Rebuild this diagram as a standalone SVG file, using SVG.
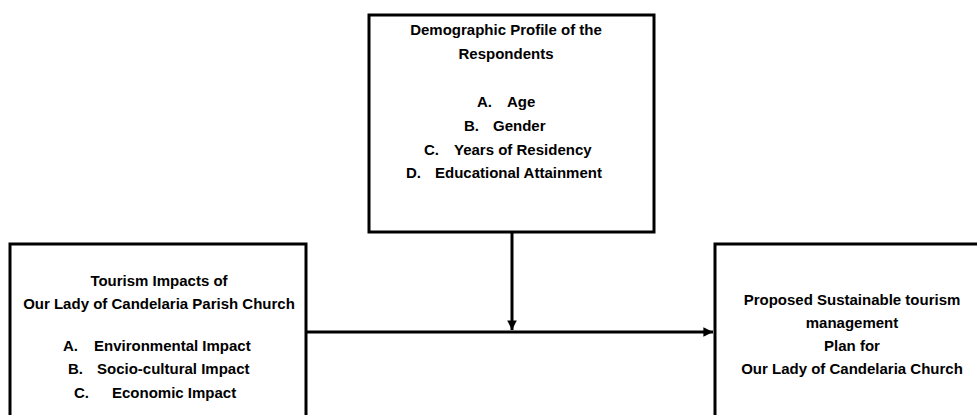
<svg xmlns="http://www.w3.org/2000/svg" width="977" height="415" viewBox="0 0 977 415">
<style>
.box{fill:#fff;stroke:#000;stroke-width:3}
.t{font-family:"Liberation Sans",Arial,sans-serif;font-weight:bold;font-size:15px;fill:#000}
.c{text-anchor:middle}
.con{stroke:#000;stroke-width:3;fill:none}
</style>
<defs>
<marker id="ah" viewBox="0 0 10 10" refX="10" refY="5" markerWidth="3.2" markerHeight="3.2" orient="auto" markerUnits="strokeWidth">
<path d="M0,0 L10,5 L0,10 z" fill="#000"/>
</marker>
</defs>
<rect width="977" height="415" fill="#fff"/>
<g id="demographic">
<rect class="box" x="369" y="15" width="285" height="217"/>
<text class="t c" x="506" y="35">Demographic Profile of the</text>
<text class="t c" x="506" y="59">Respondents</text>
<text class="t" x="477" y="107">A.</text><text class="t" x="507" y="107">Age</text>
<text class="t" x="464" y="131">B.</text><text class="t" x="493" y="131">Gender</text>
<text class="t" x="424" y="155">C.</text><text class="t" x="454" y="155">Years of Residency</text>
<text class="t" x="406" y="178">D.</text><text class="t" x="435" y="178">Educational Attainment</text>
</g>
<g id="impacts">
<rect class="box" x="10" y="244" width="296" height="200"/>
<text class="t c" x="159" y="286">Tourism Impacts of</text>
<text class="t c" x="159" y="309">Our Lady of Candelaria Parish Church</text>
<text class="t" x="63" y="351">A.</text><text class="t" x="94" y="351">Environmental Impact</text>
<text class="t" x="68" y="374">B.</text><text class="t" x="97" y="374">Socio-cultural Impact</text>
<text class="t" x="74" y="398">C.</text><text class="t" x="112" y="398">Economic Impact</text>
</g>
<g id="plan">
<rect class="box" x="715" y="244" width="300" height="200"/>
<text class="t c" x="852" y="305">Proposed Sustainable tourism</text>
<text class="t c" x="852" y="328">management</text>
<text class="t c" x="852" y="351">Plan for</text>
<text class="t c" x="852" y="374">Our Lady of Candelaria Church</text>
</g>
<g id="connectors">
<line class="con" x1="307" y1="332" x2="713" y2="332" marker-end="url(#ah)"/>
<line class="con" x1="512" y1="233" x2="512" y2="330" marker-end="url(#ah)"/>
</g>
</svg>
